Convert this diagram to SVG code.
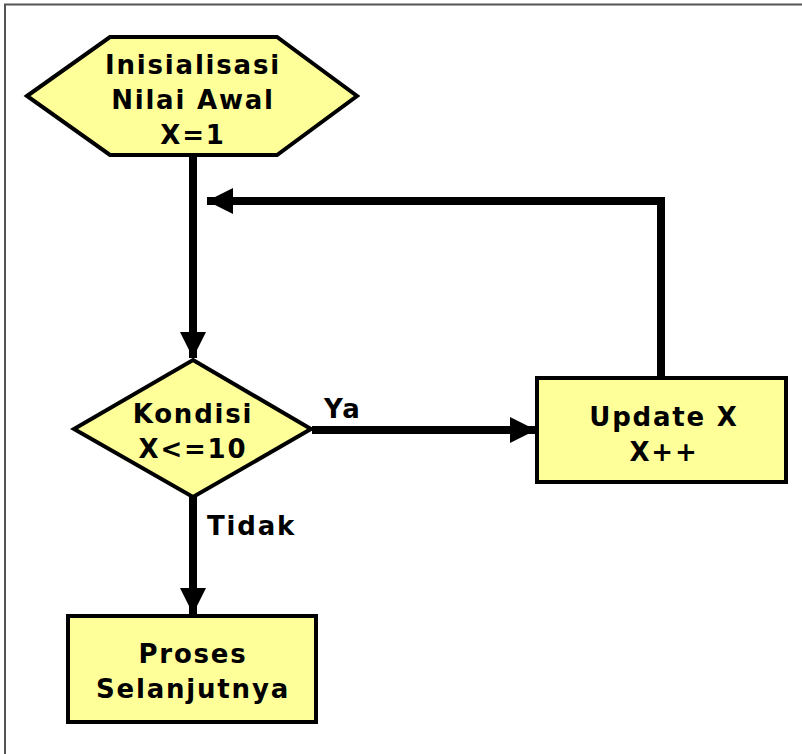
<svg xmlns="http://www.w3.org/2000/svg" width="802" height="754" viewBox="0 0 802 754">
<defs>
<style>
.shape{fill:#FFFF99;stroke:#000;stroke-width:4;stroke-linejoin:miter}
.t{font-family:"DejaVu Sans",Verdana,sans-serif;font-weight:bold;font-size:26px;fill:#000;text-anchor:middle;letter-spacing:1.8px}
.lbl{font-family:"DejaVu Sans",Verdana,sans-serif;font-weight:bold;font-size:26px;fill:#000;letter-spacing:1.8px}
.c{fill:none;stroke:#000;stroke-width:8}
</style>
<marker id="ah" markerUnits="userSpaceOnUse" markerWidth="30" markerHeight="30" refX="26" refY="13" orient="auto">
<path d="M0,0 L26,13 L0,26 z" fill="#000"/>
</marker>
</defs>
<rect x="0" y="0" width="802" height="754" fill="#fff"/>
<path d="M5,754 V4.5 H802" fill="none" stroke="#555" stroke-width="2"/>
<g id="connectors">
<path class="c" d="M193,155 V358" marker-end="url(#ah)"/>
<path class="c" d="M661,377 V201 H207" marker-end="url(#ah)"/>
<path class="c" d="M312,430 H536" marker-end="url(#ah)"/>
<path class="c" d="M193,497 V614" marker-end="url(#ah)"/>
<text class="lbl" x="324" y="418">Ya</text>
<text class="lbl" x="207" y="535">Tidak</text>
</g>
<g id="init">
<polygon class="shape" points="27,96 110,37 277,37 357,96 277,155 110,155"/>
<text class="t" x="193" y="74">Inisialisasi</text>
<text class="t" x="193" y="109">Nilai Awal</text>
<text class="t" x="193" y="144">X=1</text>
</g>
<g id="kondisi">
<polygon class="shape" points="193,360 311,429 193,497 74,429"/>
<text class="t" x="193" y="423">Kondisi</text>
<text class="t" x="193" y="458">X&lt;=10</text>
</g>
<g id="update">
<rect class="shape" x="537" y="378" width="249" height="104"/>
<text class="t" x="664" y="426">Update X</text>
<text class="t" x="664" y="461">X++</text>
</g>
<g id="proses">
<rect class="shape" x="68" y="616" width="248" height="106"/>
<text class="t" x="193" y="663">Proses</text>
<text class="t" x="193" y="698">Selanjutnya</text>
</g>
</svg>
